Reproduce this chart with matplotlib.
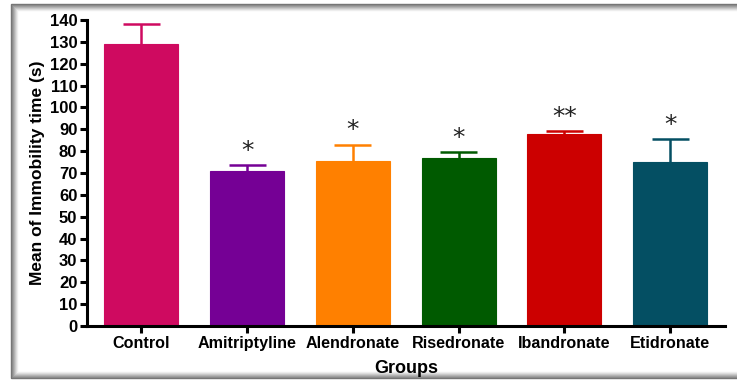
import matplotlib
matplotlib.use("Agg")
import matplotlib.pyplot as plt
from matplotlib.patches import Rectangle

groups = ["Control", "Amitriptyline", "Alendronate", "Risedronate", "Ibandronate", "Etidronate"]
means = [129, 71, 75.5, 77, 88, 75]
errors = [9, 2.8, 7.5, 2.5, 1.2, 10.5]
stars = ["", "*", "*", "*", "**", "*"]
colors = ["#CF0A60", "#750095", "#FF8000", "#005A00", "#CC0000", "#044F63"]
yticks = list(range(0, 141, 10))

plt.rcParams['font.family'] = ['Liberation Sans', 'DejaVu Sans']

fig = plt.figure(figsize=(7.37, 3.81), dpi=100)
fig.patch.set_facecolor("white")

# framed panel with soft gray shading
W, H = 737, 381
for i in range(7):
    shade = 0.45 + i * 0.08
    fig.add_artist(Rectangle(((11 + i) / W, (3 + i) / H), (740 - 11) / W, (378 - 4 - 2 * i) / H,
                             transform=fig.transFigure, fill=False,
                             edgecolor=(shade, shade, shade), linewidth=1.0, zorder=-1))

ax = fig.add_axes([87 / W, 1 - 326 / H, (725 - 87) / W, (326 - 20) / H])
x = list(range(len(groups)))
bw = 0.7
ax.bar(x, means, width=bw, color=colors, edgecolor=colors, linewidth=0.8, zorder=2)
tops = [m + e for m, e in zip(means, errors)]
ax.vlines(x, means, tops, colors=colors, linewidth=1.8, zorder=1)
ax.hlines(tops, [xi - bw / 4 for xi in x], [xi + bw / 4 for xi in x], colors=colors,
          linewidth=1.8, zorder=1)
for xi, t, s in zip(x, tops, stars):
    if s:
        ax.text(xi, t + 1.0, s, ha="center", va="bottom", fontsize=18,
                family=['DejaVu Sans'], color="#222222")

ax.set_xlim(-0.515, 5.52)
ax.set_ylim(0, 140)
ax.set_yticks(yticks)
ax.set_xticks(x)
ax.set_xticklabels(groups)
for sp in ["top", "right"]:
    ax.spines[sp].set_visible(False)
for sp in ["left", "bottom"]:
    ax.spines[sp].set_linewidth(2.2)
ax.tick_params(axis="both", direction="out", width=2.2, length=5, pad=2)
ax.tick_params(axis="y", labelsize=12)
ax.tick_params(axis="x", labelsize=11.6)
for lab in ax.get_xticklabels() + ax.get_yticklabels():
    lab.set_fontweight("bold")
ax.set_xlabel("Groups", fontsize=13, fontweight="bold", labelpad=7)
ax.set_ylabel("Mean of Immobility time (s)", fontsize=12.5, fontweight="bold", labelpad=3)
ax.patch.set_alpha(0)

fig.savefig("out.png", dpi=100)
